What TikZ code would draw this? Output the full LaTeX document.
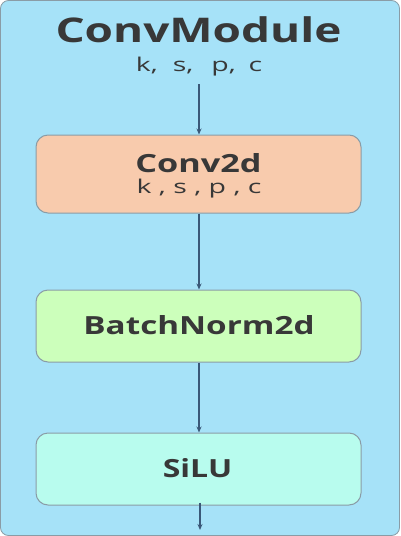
\documentclass[tikz,border=0pt]{standalone}
\usepackage{graphicx}
\usepackage{fontspec}
\setmainfont{Open Sans}
\usetikzlibrary{arrows.meta}
\definecolor{bgblue}{HTML}{A6E2F8}
\definecolor{convc}{HTML}{F8CBAD}
\definecolor{bnc}{HTML}{CCFFBB}
\definecolor{siluc}{HTML}{B8FCEE}
\definecolor{edgec}{HTML}{8A9CA6}
\definecolor{txtc}{HTML}{383838}
\definecolor{arrc}{HTML}{3A5878}
\newcommand{\wideb}[2][1.35]{\scalebox{#1}[1]{#2}}
\tikzset{
  layerbox/.style={draw=edgec, line width=1pt, rounded corners=12pt, minimum width=325pt, minimum height=72pt, inner sep=0pt},
  boldtxt/.style={text=txtc, inner sep=0pt, font=\fontsize{25}{28}\selectfont\bfseries},
  regtxt/.style={text=txtc, inner sep=0pt, font=\fontsize{19}{22}\selectfont},
  flow/.style={draw=arrc, line width=1.1pt, -{Stealth[length=6pt,width=5pt]}},
}
\begin{document}
\begin{tikzpicture}[x=1pt,y=-1pt]
\useasboundingbox (0,0) rectangle (400,536);
\draw[fill=bgblue, draw=edgec, line width=0.8pt, rounded corners=8pt] (0.5,0.5) rectangle (399.5,535.5);
\node[text=txtc, inner sep=0pt, font=\fontsize{34}{38}\selectfont\bfseries] (title) at (198.5,30) {\wideb{ConvModule}};
\node[regtxt] (params) at (199,67) {\wideb[1.5]{k,\hspace{10pt}s,\hspace{12pt}p,\hspace{8.5pt}c}};
\node[layerbox, fill=convc, minimum height=78pt] (conv) at (198.5,174) {};
\node[boldtxt] (convt) at (198.5,163) {\wideb[1.37]{Conv2d}};
\node[regtxt] (convp) at (199,189) {\wideb[1.5]{k , s , p , c}};
\node[layerbox, fill=bnc] (bn) at (198.5,326) {};
\node[boldtxt] (bnt) at (199,325) {\wideb[1.33]{BatchNorm2d}};
\node[layerbox, fill=siluc] (silu) at (198.5,469) {};
\node[boldtxt] (silut) at (197.5,468.5) {\wideb[1.28]{SiLU}};
\coordinate (top) at (199,84);
\coordinate (out) at (200,530);
\draw[flow] (top) -- (conv.north -| top);
\draw[flow] (conv.south -| top) -- (bn.north -| top);
\draw[flow] (bn.south -| top) -- (silu.north -| top);
\draw[flow] ([yshift=3pt]silu.south -| out) -- (out);
\end{tikzpicture}
\end{document}
